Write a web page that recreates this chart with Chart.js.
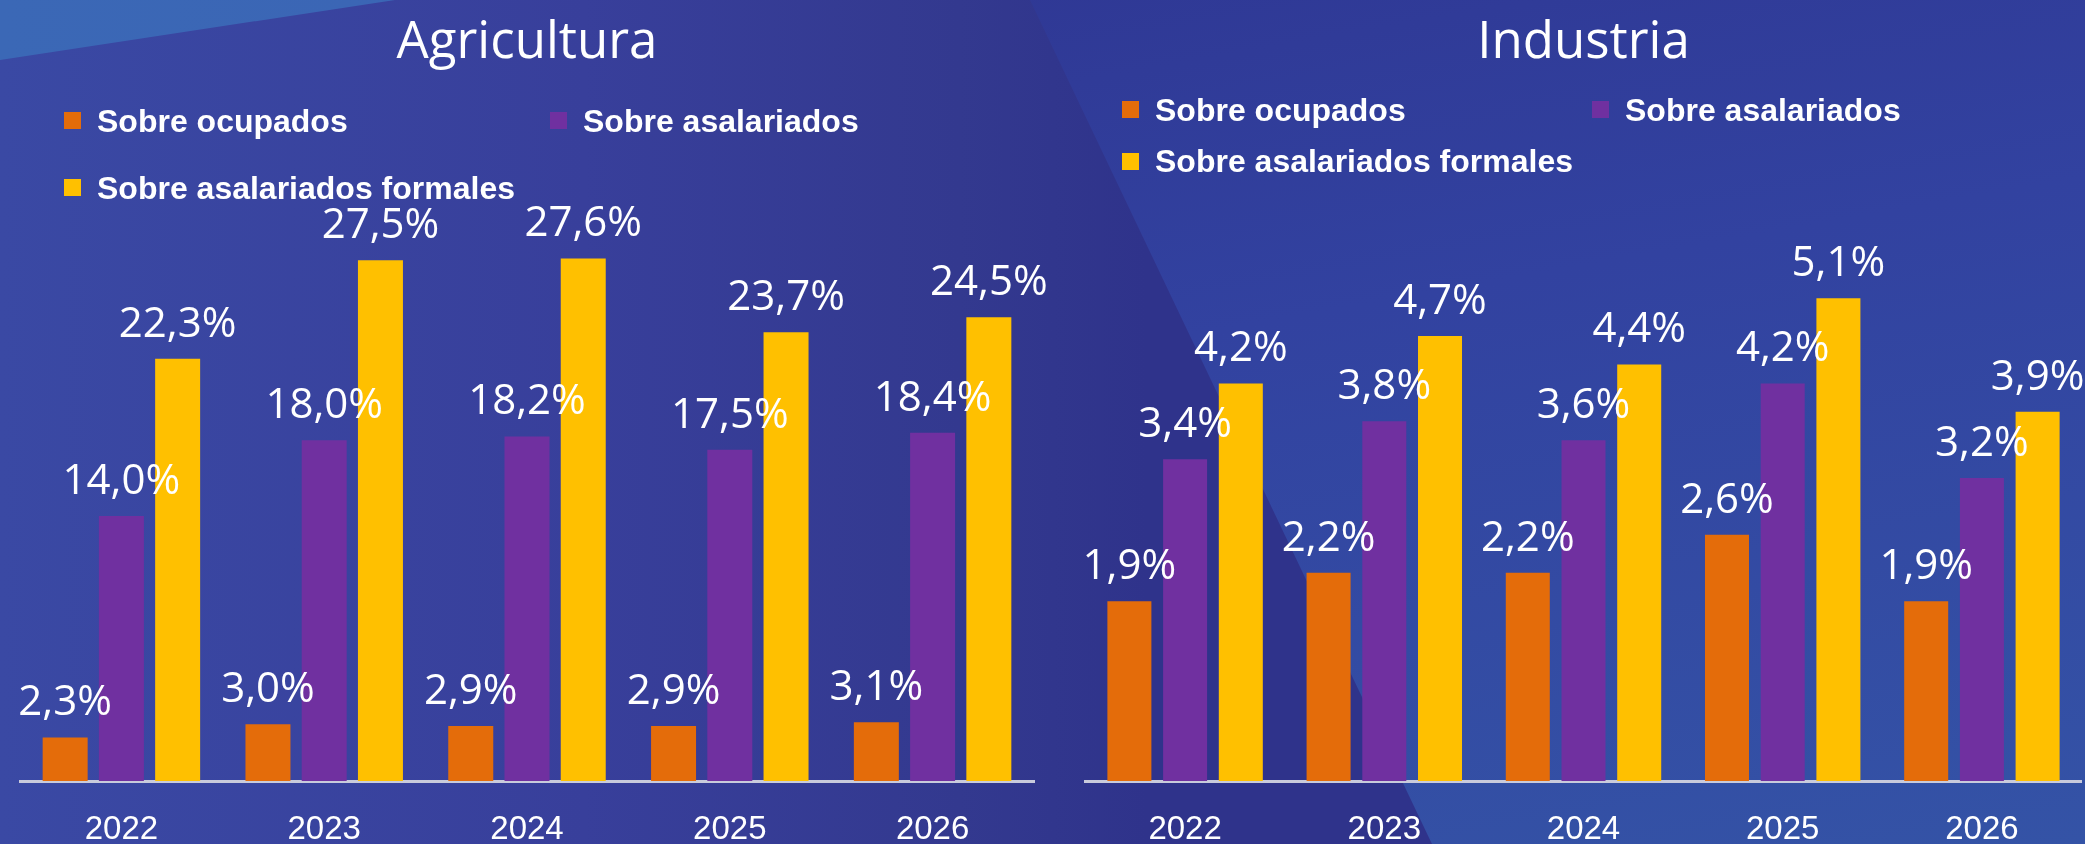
<!DOCTYPE html>
<html lang="es">
<head>
<meta charset="utf-8">
<title>Agricultura e Industria</title>
<script src="https://cdn.jsdelivr.net/npm/chart.js@4.4.1/dist/chart.umd.min.js"></script>
<style>
  html, body { margin: 0; padding: 0; }
  body {
    width: 2085px; height: 844px; position: relative; overflow: hidden;
    background: linear-gradient(90deg, #3a49a4 0%, #383f9b 28%, #33398f 46%, #2f338b 55%);
  }
  .capa { position: absolute; left: 0; top: 0; width: 2085px; height: 844px; }
  #capa-derecha {
    clip-path: polygon(1030px 0, 2085px 0, 2085px 844px, 1432px 844px);
    background: linear-gradient(170deg, #2e3490 0%, #3242a0 45%, #3453a6 100%);
  }
  #capa-esquina {
    clip-path: polygon(0 0, 395px 0, 0 60px);
    background: linear-gradient(90deg, #3b68b6, #3a5cb0);
  }
  .panel { position: absolute; top: 0; }
  .leyenda {
    position: absolute; display: flex; align-items: center; height: 32px;
    color: #fff; font: bold 32px/32px 'Liberation Sans', Arial, sans-serif; white-space: nowrap;
  }
  .leyenda i { width: 17px; height: 17px; margin-right: 16px; display: inline-block; }
</style>
</head>
<body>
<div class="capa" id="capa-derecha"></div>
<div class="capa" id="capa-esquina"></div>

<!-- lienzos algo más altos que la ventana (lo que sobra queda recortado);
     el izquierdo se solapa con el derecho para que quepa la última etiqueta -->
<canvas id="graficoAgricultura" class="panel" style="left:0" width="1080" height="881"></canvas>
<canvas id="graficoIndustria" class="panel" style="left:1042px" width="1043" height="881"></canvas>

<script>
// ──────────────────────────────────────────────
//  Datos
// ──────────────────────────────────────────────

const ANIOS = ['2022', '2023', '2024', '2025', '2026'];
const SERIES = ['Sobre ocupados', 'Sobre asalariados', 'Sobre asalariados formales'];
const COLORES = ['#E46C0A', '#7030A0', '#FFC000'];

const AGRO_OCUPADOS = [2.3, 3.0, 2.9, 2.9, 3.1];
const AGRO_ASALARIADOS = [14.0, 18.0, 18.2, 17.5, 18.4];
const AGRO_FORMALES = [22.3, 27.5, 27.6, 23.7, 24.5];

const IND_OCUPADOS = [1.9, 2.2, 2.2, 2.6, 1.9];
const IND_ASALARIADOS = [3.4, 3.8, 3.6, 4.2, 3.2];
const IND_FORMALES = [4.2, 4.7, 4.4, 5.1, 3.9];

// ──────────────────────────────────────────────
//  Helpers
// ──────────────────────────────────────────────

function formatoPct(v) {
  return v.toFixed(1).replace('.', ',') + '%';
}

// etiquetas de valor encima de cada barra
const etiquetasBarras = {
  id: 'etiquetasBarras',
  afterDatasetsDraw(chart) {
    const ctx = chart.ctx;
    ctx.save();
    ctx.fillStyle = '#ffffff';
    ctx.font = '42px "Open Sans", sans-serif';
    ctx.textAlign = 'center';
    ctx.textBaseline = 'alphabetic';
    chart.data.datasets.forEach((ds, i) => {
      chart.getDatasetMeta(i).data.forEach((bar, j) => {
        ctx.fillText(formatoPct(ds.data[j]), bar.x, bar.y - 22);
      });
    });
    ctx.restore();
  },
};

function crearGrafico(id, titulo, valores, yMax, padding, catPct, barPct) {
  return new Chart(document.getElementById(id), {
    type: 'bar',
    data: {
      labels: ANIOS,
      datasets: valores.map((serie, i) => ({
        label: SERIES[i],
        data: serie,
        backgroundColor: COLORES[i],
        borderWidth: 0,
        categoryPercentage: catPct,
        barPercentage: barPct,
      })),
    },
    options: {
      responsive: false,
      animation: false,
      devicePixelRatio: 1,
      layout: { padding },
      plugins: {
        legend: { display: false },
        tooltip: { enabled: false },
        title: {
          display: true,
          text: titulo,
          color: '#ffffff',
          font: { family: '"Open Sans", sans-serif', size: 51, weight: 400, lineHeight: 1 },
          padding: { top: 18, bottom: 144 },
        },
      },
      scales: {
        x: {
          grid: { display: false, drawTicks: false },
          border: { display: true, color: '#c9cbdc', width: 3 },
          ticks: {
            color: '#ffffff',
            padding: 32,
            font: { family: '"Liberation Sans", Arial, sans-serif', size: 33, lineHeight: 1 },
          },
        },
        y: { display: false, min: 0, max: yMax },
      },
    },
    plugins: [etiquetasBarras],
  });
}

function crearLeyenda(posiciones) {
  posiciones.forEach(([x, y], i) => {
    const el = document.createElement('div');
    el.className = 'leyenda';
    el.style.left = x + 'px';
    el.style.top = y + 'px';
    el.innerHTML = `<i style="background:${COLORES[i]}"></i>${SERIES[i]}`;
    document.body.appendChild(el);
  });
}

// ──────────────────────────────────────────────
//  Arranque
// ──────────────────────────────────────────────

crearGrafico('graficoAgricultura', 'Agricultura',
  [AGRO_OCUPADOS, AGRO_ASALARIADOS, AGRO_FORMALES], 30,
  { left: 20, right: 46, top: 0, bottom: 3 }, 0.832, 0.80);

crearGrafico('graficoIndustria', 'Industria',
  [IND_OCUPADOS, IND_ASALARIADOS, IND_FORMALES], 6,
  { left: 43.5, right: 3.5, top: 0, bottom: 3 }, 0.839, 0.79);

crearLeyenda([[64, 104.5], [550, 104.5], [64, 171.5]]);
crearLeyenda([[1122, 93.5], [1592, 93.5], [1122, 145]]);
</script>
</body>
</html>
